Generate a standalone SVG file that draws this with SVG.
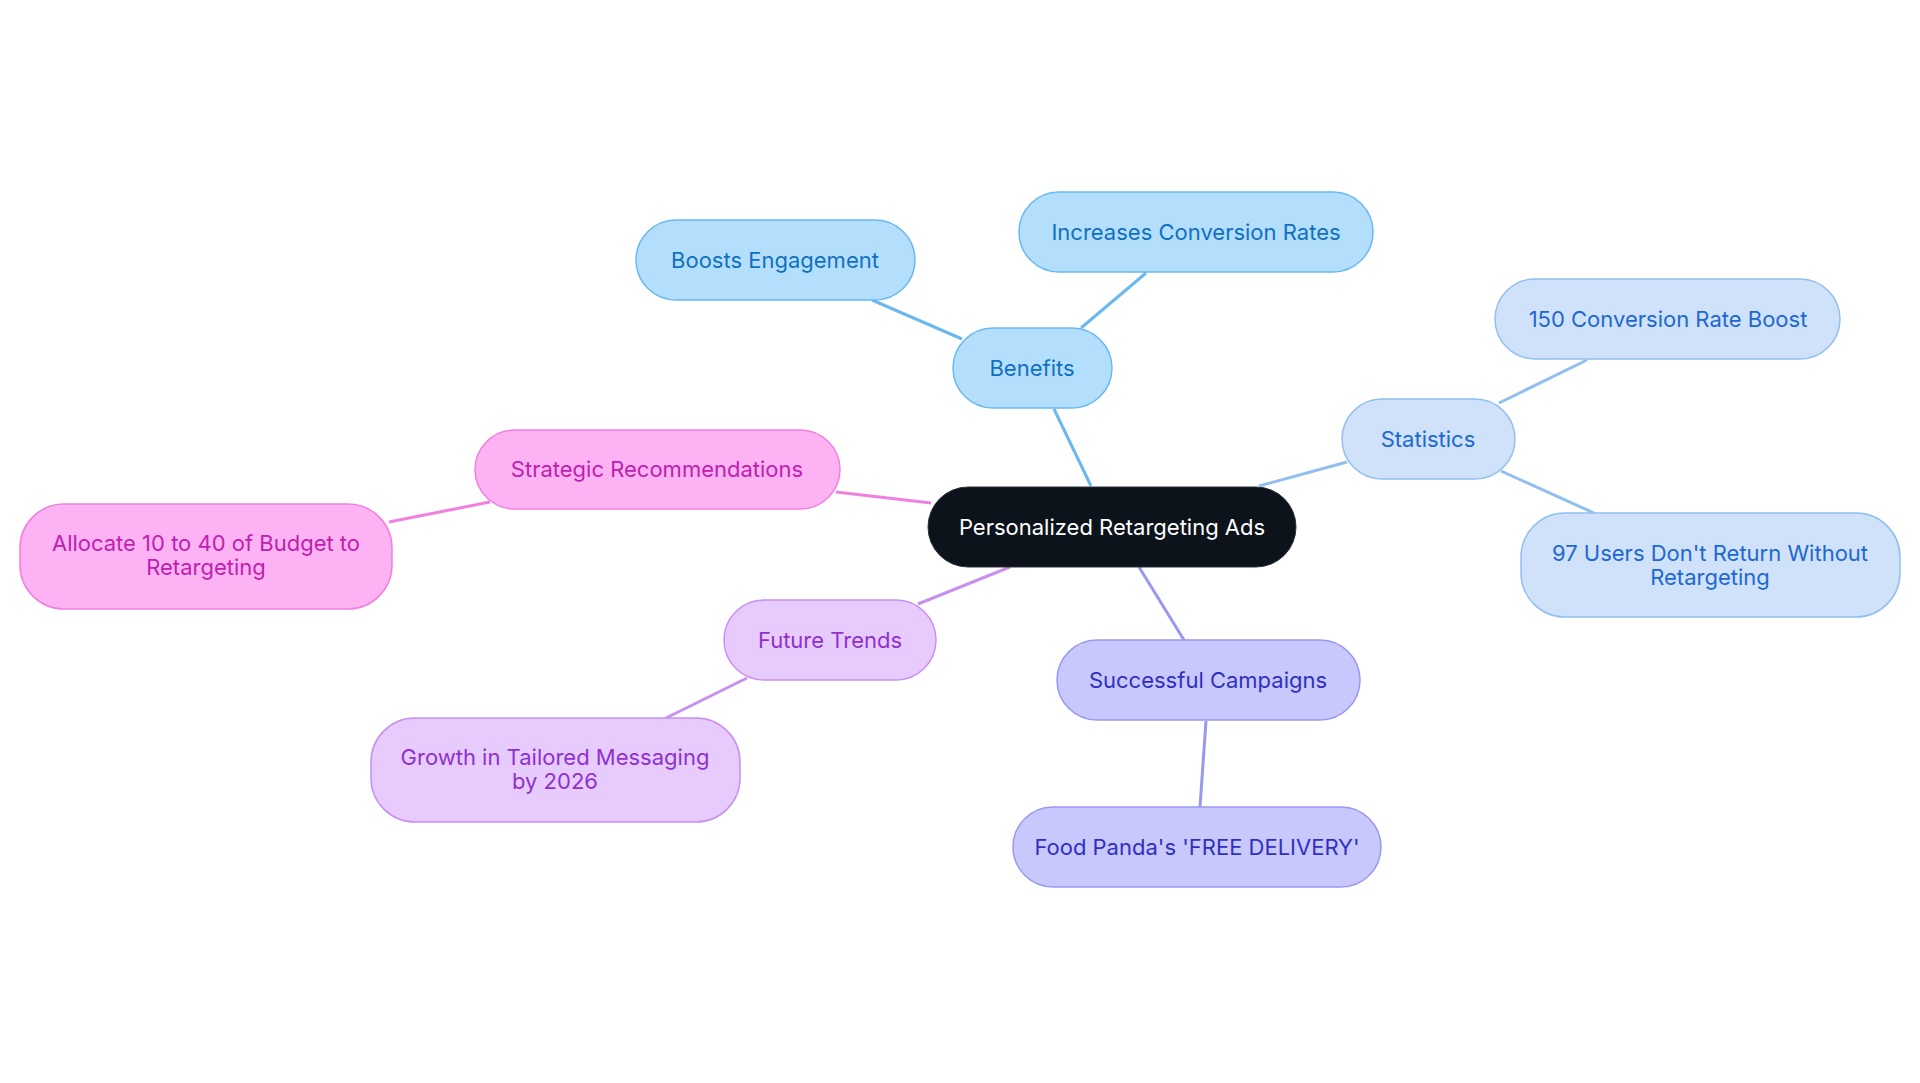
<svg xmlns="http://www.w3.org/2000/svg" width="1920" height="1083" viewBox="0 0 1920 1083">
<style>
text{font-family:Inter,"Noto Sans","Liberation Sans",sans-serif;font-size:22px;text-anchor:middle;dominant-baseline:central}
.e line{stroke-width:3;fill:none}
.b rect{fill:#b3dffc;stroke:#6ab8f0;stroke-width:1.5}.b text{fill:#1070c0}
.s rect{fill:#cfe2fa;stroke:#90bff0;stroke-width:1.5}.s text{fill:#2068d0}
.p rect{fill:#fdb3f3;stroke:#f080e0;stroke-width:1.5}.p text{fill:#c020b0}
.f rect{fill:#e6cbfc;stroke:#c890f0;stroke-width:1.5}.f text{fill:#9030d0}
.i rect{fill:#c8c8fc;stroke:#9898f0;stroke-width:1.5}.i text{fill:#3030c0}
</style>
<rect width="1920" height="1083" fill="#fff"/>
<g class="e">
<g stroke="#6ab8f0"><line x1="1091" y1="486" x2="1054" y2="409"/><line x1="962" y1="339" x2="872" y2="300"/><line x1="1081" y1="328" x2="1146" y2="273"/></g>
<g stroke="#90bff0"><line x1="1259" y1="486" x2="1347" y2="462"/><line x1="1499" y1="403" x2="1587" y2="360"/><line x1="1501" y1="471" x2="1594" y2="513"/></g>
<g stroke="#f080e0"><line x1="931" y1="503" x2="836" y2="492"/><line x1="490" y1="502" x2="389" y2="522"/></g>
<g stroke="#c890f0"><line x1="1010" y1="567" x2="918" y2="604"/><line x1="747" y1="678" x2="666" y2="718"/></g>
<g stroke="#9898f0"><line x1="1139" y1="567" x2="1184" y2="640"/><line x1="1206" y1="721" x2="1200" y2="807"/></g>
</g>
<g id="center"><rect x="928" y="487" width="368" height="80" rx="40" fill="#0d131b" stroke="#2a3038"/><text x="1112" y="527" fill="#fff">Personalized Retargeting Ads</text></g>
<g id="benefits" class="b"><rect x="953" y="328" width="159" height="80" rx="40"/><text x="1032" y="368">Benefits</text></g>
<g id="boosts" class="b"><rect x="636" y="220" width="279" height="80" rx="40"/><text x="775" y="260">Boosts Engagement</text></g>
<g id="increases" class="b"><rect x="1019" y="192" width="354" height="80" rx="40"/><text x="1196" y="232">Increases Conversion Rates</text></g>
<g id="statistics" class="s"><rect x="1342" y="399" width="173" height="80" rx="40"/><text x="1428" y="439">Statistics</text></g>
<g id="boost150" class="s"><rect x="1495" y="279" width="345" height="80" rx="40"/><text x="1668" y="319">150 Conversion Rate Boost</text></g>
<g id="users97" class="s"><rect x="1521" y="513" width="379" height="104" rx="44"/><text x="1710" y="553">97 Users Don't Return Without</text><text x="1710" y="577">Retargeting</text></g>
<g id="strategic" class="p"><rect x="475" y="430" width="365" height="79" rx="40"/><text x="657" y="469">Strategic Recommendations</text></g>
<g id="allocate" class="p"><rect x="20" y="504" width="372" height="105" rx="44"/><text x="206" y="543">Allocate 10 to 40 of Budget to</text><text x="206" y="567">Retargeting</text></g>
<g id="future" class="f"><rect x="724" y="600" width="212" height="80" rx="40"/><text x="830" y="640">Future Trends</text></g>
<g id="growth" class="f"><rect x="371" y="718" width="369" height="104" rx="44"/><text x="555" y="757">Growth in Tailored Messaging</text><text x="555" y="781">by 2026</text></g>
<g id="successful" class="i"><rect x="1057" y="640" width="303" height="80" rx="40"/><text x="1208" y="680">Successful Campaigns</text></g>
<g id="food" class="i"><rect x="1013" y="807" width="368" height="80" rx="40"/><text x="1197" y="847">Food Panda's 'FREE DELIVERY'</text></g>
</svg>
